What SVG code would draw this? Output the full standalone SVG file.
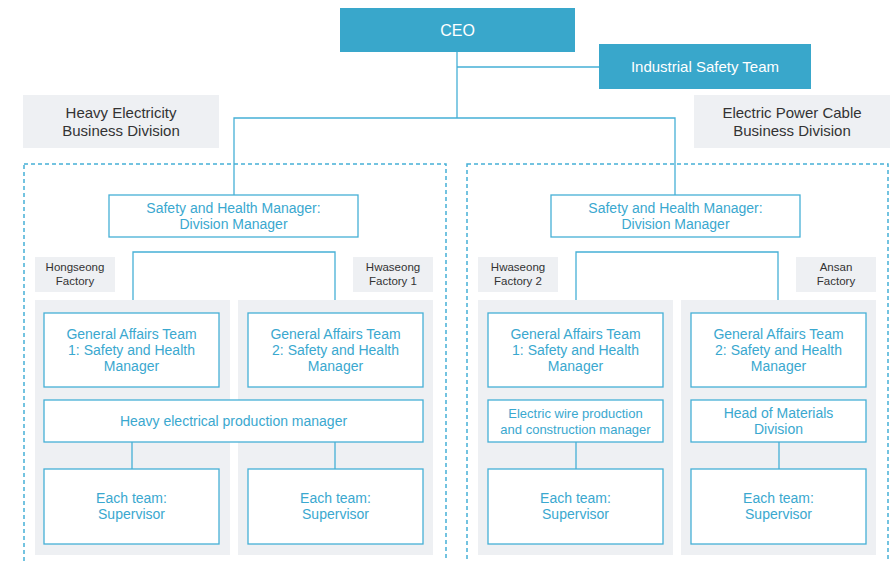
<svg xmlns="http://www.w3.org/2000/svg" width="890" height="561" viewBox="0 0 890 561">
<style>
text{font-family:"Liberation Sans",Arial,sans-serif;text-anchor:middle}
.top{fill:#39a7cb}
.wt{fill:#fff;font-size:16px}
.div{fill:#eef0f3}
.dt{fill:#333;font-size:15px}
.ft{fill:#333;font-size:11.5px}
.panel{fill:#eef0f3}
.box{fill:#fff;stroke:#45b0d6;stroke-width:1.3}
.bt{fill:#3aa8cf;font-size:14px}
.sm{font-size:13px}
.dash{fill:none;stroke:#45b0d6;stroke-width:1.5;stroke-dasharray:4 3}
.ln{fill:none;stroke:#45b0d6;stroke-width:1.3}
</style>
<rect width="890" height="561" fill="#fff"/>
<g id="ceo"><rect class="top" x="340" y="8" width="235" height="44"/><text class="wt" x="457.5" y="36">CEO</text></g>
<g id="ist"><rect class="top" x="599" y="44" width="212" height="45"/><text class="wt" x="705" y="72" style="font-size:15px">Industrial Safety Team</text></g>
<g id="heavy-div"><rect class="div" x="23" y="95" width="196" height="53"/><text class="dt" x="121" y="118">Heavy Electricity</text><text class="dt" x="121" y="136">Business Division</text></g>
<g id="cable-div"><rect class="div" x="694" y="95" width="196" height="53"/><text class="dt" x="792" y="118">Electric Power Cable</text><text class="dt" x="792" y="136">Business Division</text></g>
<rect class="dash" x="24" y="164" width="422" height="410"/>
<rect class="dash" x="467" y="164" width="421" height="410"/>
<g id="panels">
<rect class="panel" x="35" y="300" width="195" height="255"/>
<rect class="panel" x="238" y="300" width="195" height="255"/>
<rect class="panel" x="478" y="300" width="195" height="255"/>
<rect class="panel" x="681" y="300" width="195" height="255"/>
</g>
<g id="connectors">
<path class="ln" d="M457 52V118M457 67H599M234 195V118H675V195"/>
<path class="ln" d="M133 300V252H335V300"/>
<path class="ln" d="M576 300V252H778V300"/>
<path class="ln" d="M132 442V469M335 442V469M576 442V469M779 442V469"/>
</g>
<g id="shm-left"><rect class="box" x="109" y="195" width="249" height="42"/><text class="bt" x="233.5" y="213">Safety and Health Manager:</text><text class="bt" x="233.5" y="229">Division Manager</text></g>
<g id="shm-right"><rect class="box" x="551" y="195" width="249" height="42"/><text class="bt" x="675.5" y="213">Safety and Health Manager:</text><text class="bt" x="675.5" y="229">Division Manager</text></g>
<g id="f-hongseong"><rect class="div" x="35" y="257" width="80" height="35"/><text class="ft" x="75" y="271">Hongseong</text><text class="ft" x="75" y="285">Factory</text></g>
<g id="f-hwaseong1"><rect class="div" x="353" y="257" width="80" height="35"/><text class="ft" x="393" y="271">Hwaseong</text><text class="ft" x="393" y="285">Factory 1</text></g>
<g id="f-hwaseong2"><rect class="div" x="478" y="257" width="80" height="35"/><text class="ft" x="518" y="271">Hwaseong</text><text class="ft" x="518" y="285">Factory 2</text></g>
<g id="f-ansan"><rect class="div" x="796" y="257" width="80" height="35"/><text class="ft" x="836" y="271">Ansan</text><text class="ft" x="836" y="285">Factory</text></g>
<g id="ga-l1"><rect class="box" x="44" y="313" width="175" height="74"/><text class="bt" x="131.5" y="339">General Affairs Team</text><text class="bt" x="131.5" y="355">1: Safety and Health</text><text class="bt" x="131.5" y="371">Manager</text></g>
<g id="ga-l2"><rect class="box" x="248" y="313" width="175" height="74"/><text class="bt" x="335.5" y="339">General Affairs Team</text><text class="bt" x="335.5" y="355">2: Safety and Health</text><text class="bt" x="335.5" y="371">Manager</text></g>
<g id="ga-r1"><rect class="box" x="488" y="313" width="175" height="74"/><text class="bt" x="575.5" y="339">General Affairs Team</text><text class="bt" x="575.5" y="355">1: Safety and Health</text><text class="bt" x="575.5" y="371">Manager</text></g>
<g id="ga-r2"><rect class="box" x="691" y="313" width="175" height="74"/><text class="bt" x="778.5" y="339">General Affairs Team</text><text class="bt" x="778.5" y="355">2: Safety and Health</text><text class="bt" x="778.5" y="371">Manager</text></g>
<g id="hepm"><rect class="box" x="44" y="400" width="379" height="42"/><text class="bt" x="233.5" y="426">Heavy electrical production manager</text></g>
<g id="ewpm"><rect class="box" x="488" y="400" width="175" height="42"/><text class="bt sm" x="575.5" y="418">Electric wire production</text><text class="bt sm" x="575.5" y="434">and construction manager</text></g>
<g id="hmd"><rect class="box" x="691" y="400" width="175" height="42"/><text class="bt" x="778.5" y="418">Head of Materials</text><text class="bt" x="778.5" y="434">Division</text></g>
<g id="sup-l1"><rect class="box" x="44" y="469" width="175" height="75"/><text class="bt" x="131.5" y="503">Each team:</text><text class="bt" x="131.5" y="519">Supervisor</text></g>
<g id="sup-l2"><rect class="box" x="248" y="469" width="175" height="75"/><text class="bt" x="335.5" y="503">Each team:</text><text class="bt" x="335.5" y="519">Supervisor</text></g>
<g id="sup-r1"><rect class="box" x="488" y="469" width="175" height="75"/><text class="bt" x="575.5" y="503">Each team:</text><text class="bt" x="575.5" y="519">Supervisor</text></g>
<g id="sup-r2"><rect class="box" x="691" y="469" width="175" height="75"/><text class="bt" x="778.5" y="503">Each team:</text><text class="bt" x="778.5" y="519">Supervisor</text></g>
</svg>
